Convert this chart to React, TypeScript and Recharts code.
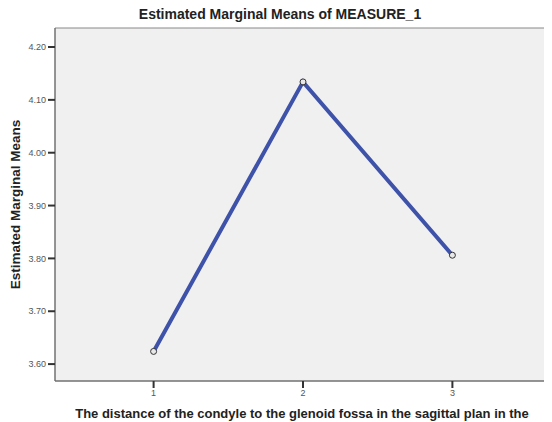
import { LineChart, Line, XAxis, YAxis, ReferenceArea } from "recharts";

const levels = [1, 2, 3];
const means = [3.624, 4.134, 3.806];
const yTicks = [3.6, 3.7, 3.8, 3.9, 4.0, 4.1, 4.2];
const xTicks = [1, 2, 3];

const data = levels.map((lvl, i) => ({ level: lvl, mean: means[i] }));

const font = "'Liberation Sans', Arial, sans-serif";

export default function App() {
  return (
    <div style={{ position: "relative", width: 552, height: 422, margin: "-8px -8px 0", background: "#fff", fontFamily: font, overflow: "hidden" }}>
      <div
        style={{
          position: "absolute",
          top: 6,
          left: 120,
          width: 320,
          textAlign: "center",
          fontWeight: 700,
          fontSize: 14,
          color: "#222",
          whiteSpace: "nowrap",
        }}
      >
        Estimated Marginal Means of MEASURE_1
      </div>
      <LineChart width={552} height={422} data={data} margin={{ top: 28, right: 1, bottom: 0, left: 0 }}>
        <ReferenceArea
          x1={0.34}
          x2={3.66}
          y1={3.568}
          y2={4.236}
          fill="#f0f0f0"
          fillOpacity={1}
          stroke="#888"
          strokeWidth={1}
        />
        <XAxis
          dataKey="level"
          type="number"
          domain={[0.34, 3.66]}
          ticks={xTicks}
          allowDataOverflow
          height={41}
          tickSize={7}
          tickLine={{ stroke: "#333", strokeWidth: 2 }}
          axisLine={{ stroke: "#666" }}
          tick={{ fontSize: 9, fill: "#555", fontFamily: font }}
        />
        <YAxis
          type="number"
          domain={[3.568, 4.236]}
          ticks={yTicks}
          allowDataOverflow
          width={55}
          tickSize={7}
          tickLine={{ stroke: "#333", strokeWidth: 2 }}
          axisLine={{ stroke: "#666" }}
          tickFormatter={(v: number) => v.toFixed(2)}
          tick={{ fontSize: 9, fill: "#555", fontFamily: font }}
          label={{
            value: "Estimated Marginal Means",
            angle: -90,
            position: "insideLeft",
            offset: 15,
            style: { textAnchor: "middle", fontSize: 13.5, fontWeight: 700, fill: "#222", fontFamily: font },
          }}
        />
        <Line
          type="linear"
          dataKey="mean"
          stroke="#3d52a8"
          strokeWidth={4}
          isAnimationActive={false}
          dot={{ r: 3, stroke: "#333", strokeWidth: 1, fill: "#e8e8e8" }}
          activeDot={false}
        />
      </LineChart>
      <div
        style={{
          position: "absolute",
          top: 406,
          left: 0,
          width: 604,
          textAlign: "center",
          fontWeight: 700,
          fontSize: 13,
          lineHeight: "15px",
          color: "#222",
          whiteSpace: "nowrap",
        }}
      >
        The distance of the condyle to the glenoid fossa in the sagittal plan in the
      </div>
    </div>
  );
}
